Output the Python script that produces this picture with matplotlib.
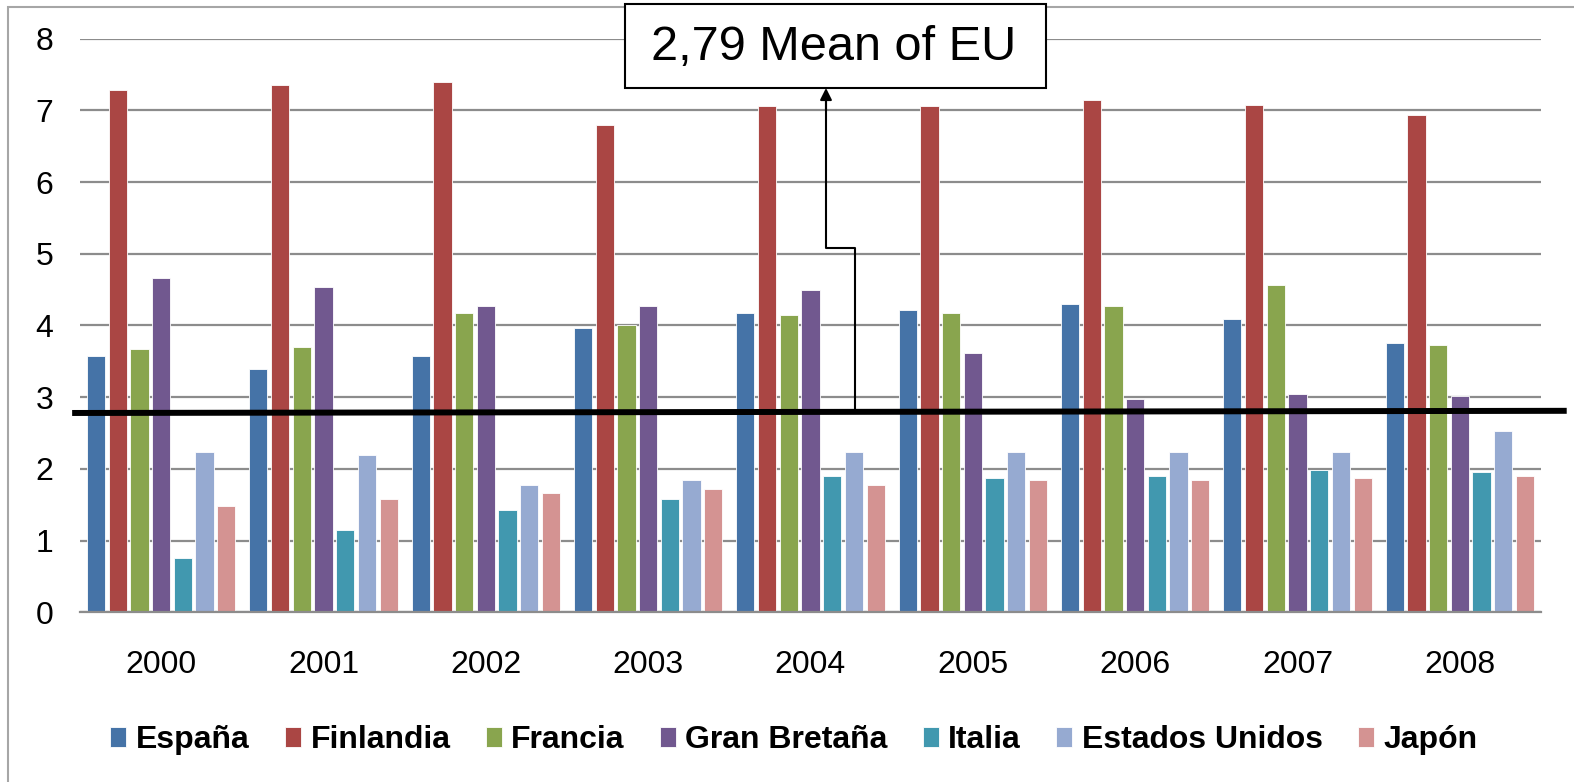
import numpy as np
import matplotlib
matplotlib.use('Agg')
from matplotlib import pyplot as plt
from matplotlib.patches import Rectangle, FancyArrowPatch
from matplotlib.lines import Line2D

plt.rcParams['font.family'] = ['Liberation Sans', 'DejaVu Sans']

# datos
years = ['2000', '2001', '2002', '2003', '2004', '2005', '2006', '2007', '2008']
espana = [3.57, 3.40, 3.57, 3.97, 4.18, 4.21, 4.30, 4.09, 3.76]
finlandia = [7.29, 7.35, 7.39, 6.79, 7.06, 7.06, 7.15, 7.08, 6.94]
francia = [3.67, 3.70, 4.18, 4.00, 4.15, 4.18, 4.27, 4.57, 3.73]
gran_bretana = [4.66, 4.54, 4.27, 4.27, 4.50, 3.61, 2.97, 3.04, 3.02]
italia = [0.76, 1.15, 1.42, 1.58, 1.90, 1.87, 1.90, 1.99, 1.96]
eeuu = [2.24, 2.20, 1.78, 1.85, 2.24, 2.24, 2.24, 2.24, 2.53]
japon = [1.48, 1.58, 1.66, 1.72, 1.78, 1.85, 1.85, 1.87, 1.90]
mean_eu = 2.79
mean_label = '2,79 Mean of EU'

series = [
    ('España', espana, '#4573A7'),
    ('Finlandia', finlandia, '#AA4644'),
    ('Francia', francia, '#89A54E'),
    ('Gran Bretaña', gran_bretana, '#71588F'),
    ('Italia', italia, '#4198AF'),
    ('Estados Unidos', eeuu, '#96AAD1'),
    ('Japón', japon, '#D49392'),
]

W, H = 1574, 782
fig = plt.figure(figsize=(W / 100, H / 100), dpi=100)


def px(x, y):
    return x / W, 1 - y / H


# marco exterior del gráfico
fig.add_artist(Rectangle(px(8, 790), (W + 20) / W, 783 / H, transform=fig.transFigure,
                         fill=False, edgecolor='#a6a6a6', lw=1.5, zorder=0))

ax = fig.add_axes([80 / W, 1 - 612.3 / H, 1461 / W, 573.6 / H])
x = np.arange(len(years))
slot = 0.1337
bw = 0.112
for i, (name, vals, col) in enumerate(series):
    ax.bar(x + (i - 3) * slot, vals, width=bw, color=col, edgecolor='white',
           linewidth=0.6, label=name, zorder=2)

ax.set_xlim(-0.5, len(years) - 0.5)
ax.set_ylim(0, 8)
ax.set_yticks(range(0, 9))
ax.set_xticks(x)
ax.set_xticklabels(years)
ax.yaxis.grid(True, color='#8c8c8c', lw=1.6)
ax.set_axisbelow(True)
for s in ['top', 'right', 'left']:
    ax.spines[s].set_visible(False)
ax.spines['bottom'].set_color('#8c8c8c')
ax.spines['bottom'].set_linewidth(1.6)
ax.tick_params(axis='y', length=0, pad=19, labelsize=23)
ax.tick_params(axis='x', length=0, pad=27, labelsize=23)

# línea de la media UE
ax.plot([-0.53, 8.64], [mean_eu - 0.01, mean_eu + 0.02], color='black', lw=4.3,
        clip_on=False, zorder=5)

# flecha y cuadro de texto
pts = [px(855, 410), px(855, 248), px(826, 248), px(826, 100)]
fig.add_artist(Line2D([p[0] for p in pts], [p[1] for p in pts], transform=fig.transFigure,
                      color='black', lw=1.5, zorder=6))
fig.add_artist(FancyArrowPatch(px(826, 110), px(826, 88), transform=fig.transFigure,
                               arrowstyle='-|>,head_length=7,head_width=3.5',
                               color='black', lw=1.5, zorder=6, shrinkA=0, shrinkB=0))
fig.add_artist(Rectangle(px(625, 88), 421 / W, 84 / H, transform=fig.transFigure,
                         facecolor='white', edgecolor='black', lw=1.5, zorder=7))
tx, ty = px(834, 47)
fig.text(tx, ty, mean_label, fontsize=35, ha='center', va='center', zorder=8)

leg = fig.legend(loc='center', bbox_to_anchor=px(794, 740), ncol=7, frameon=False,
                 prop={'size': 23, 'weight': 'bold'}, handlelength=0.5, handleheight=0.6,
                 handletextpad=0.3, columnspacing=1.1)

plt.savefig('out.png', dpi=100)
